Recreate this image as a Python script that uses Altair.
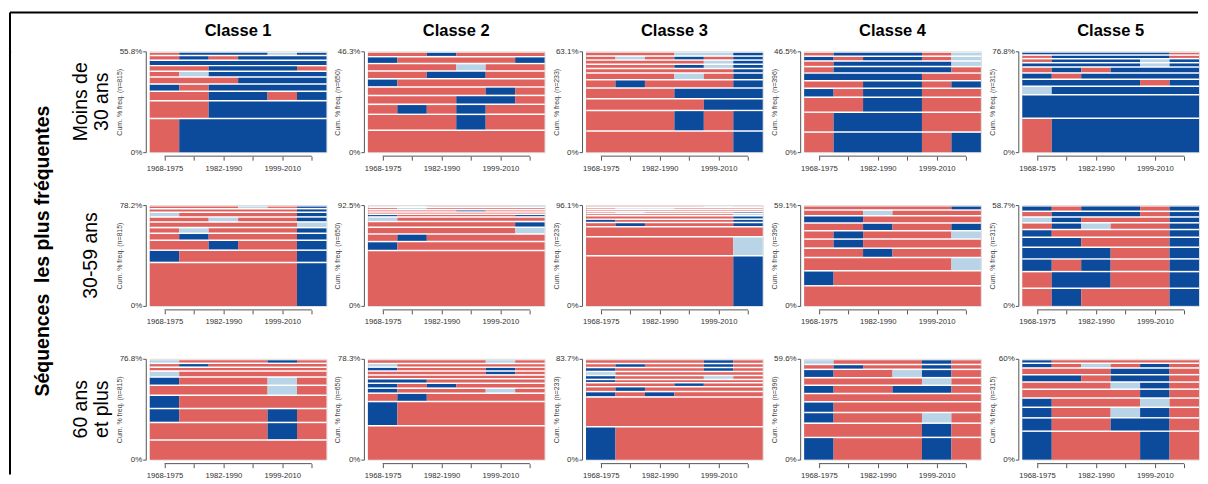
import altair as alt
import pandas as pd

FONT = "Liberation Sans"

# states: R = red, B = dark blue, L = light blue
STATES = ["R", "B", "L"]
STATE_COLORS = ["#E0625F", "#0C4A9C", "#B9D3E7"]
TICK_LABELS = ["1968-1975", "", "1982-1990", "", "1999-2010", ""]
CLASSES = ["Classe 1", "Classe 2", "Classe 3", "Classe 4", "Classe 5"]
N_OBS = [815, 650, 233, 396, 315]
AGE_GROUPS = [["Moins de", "30 ans"], ["30-59 ans"], ["60 ans", "et plus"]]
TOP_PCT = [
    [55.8, 46.3, 63.1, 46.5, 76.8],
    [78.2, 92.5, 96.1, 59.1, 58.7],
    [76.8, 78.3, 83.7, 59.6, 60],
]

# sequences listed from the bottom (most frequent) upward, with their % frequency
SEQ_R1_C1 = ["RBBBBB", "RRBBBB", "RRBBRB", "BRBBBB", "RRRBBB", "RLBBBB", "RRBBBR", "BBBBBB", "RBRBBB", "RBBBLB"]
FREQ_R1_C1 = [19.0, 9.9, 5.2, 4.0, 3.9, 3.2, 3.1, 3.0, 2.6, 1.9]
SEQ_R1_C2 = ["RRRRRR", "RRRBRR", "RBRBRR", "RRRBBR", "RRRRBR", "BRRRRR", "RRBBRR", "RRRLRR", "BRRRRB", "RRBRRR"]
FREQ_R1_C2 = [10.4, 7.3, 4.6, 4.1, 3.9, 3.7, 3.6, 3.4, 3.2, 2.1]
SEQ_R1_C3 = ["RRRRRB", "RRRBRB", "RRRRBB", "RRRBBB", "RBRRRB", "RRRLRB", "RRRRRB", "RRRBLB", "RRRRLB", "RLRBRB", "RRRLLB"]
FREQ_R1_C3 = [13.7, 12.9, 7.3, 6.7, 5.2, 4.2, 2.8, 2.7, 2.6, 2.5, 2.5]
SEQ_R1_C4 = ["RBBBRB", "RBBBRR", "RRBBRR", "BRBBRR", "RRBBRB", "BBBBRR", "RBBBBR", "RBBBBL", "BRBBRL", "RBBBRL"]
FREQ_R1_C4 = [9.6, 9.2, 6.9, 4.1, 3.5, 3.5, 3.0, 2.6, 2.2, 1.9]
SEQ_R1_C5 = ["RBBBBB", "BBBBBB", "LBBBBB", "BBBBRB", "BRBBBB", "RBRBBB", "BBBBLB", "RBBBLB", "RBBBBR", "BBBBBR"]
FREQ_R1_C5 = [26.4, 17.9, 6.5, 5.3, 4.8, 4.5, 3.3, 3.1, 2.7, 2.3]

SEQ_R2_C1 = ["RRRRRB", "BRRRRB", "RRBRRB", "RBRRRB", "RLRRRB", "RRRRRL", "RRLRRB", "LRRRRB", "RRRRRB", "RRRLRB"]
FREQ_R2_C1 = [34.3, 9.5, 7.7, 5.4, 4.4, 4.4, 3.9, 3.6, 2.8, 2.2]
SEQ_R2_C2 = ["RRRRRR", "BRRRRR", "RBRRRR", "RRRRRL", "RRRRRB", "LRRRRR", "BRRRRB", "RRRRRR", "RRRBRR", "RLRRRR", "RLRRRB"]
FREQ_R2_C2 = [51.5, 8.2, 7.0, 6.1, 5.2, 4.3, 2.4, 2.1, 2.1, 2.1, 1.5]
SEQ_R2_C3 = ["RRRRRB", "RRRRRL", "RRRRRR", "RBRRRB", "BRRRRB", "RRRRRB", "RRRRRL", "RLRRRB", "RRRRRR", "RLLRRR", "RRRRLR"]
FREQ_R2_C3 = [48.5, 18.1, 9.5, 4.1, 3.2, 3.2, 2.2, 1.9, 1.9, 1.9, 1.6]
SEQ_R2_C4 = ["RRRRRR", "BRRRRR", "RRRRRL", "RRBRRR", "RBRRRR", "RBRRRL", "RRBRRB", "BBRRRR", "RRLRRR", "RRRRRB"]
FREQ_R2_C4 = [12.2, 8.8, 7.8, 5.5, 5.3, 4.9, 4.5, 4.3, 3.3, 2.5]
SEQ_R2_C5 = ["RBRRRB", "RBBRRB", "BRBRRB", "BBBRRB", "BBRRRB", "BRRRRB", "RBLRRB", "LBRRRB", "RBBBRB", "BRBBRB"]
FREQ_R2_C5 = [10.7, 9.7, 7.4, 6.8, 5.8, 4.5, 3.9, 3.4, 3.3, 3.2]

SEQ_R3_C1 = ["RRRRRR", "RRRRBR", "BRRRBR", "BRRRRR", "RRRRLR", "BRRRLR", "LRRRRR", "RRRRRR", "RBRRRR", "LRRRBR"]
FREQ_R3_C1 = [15.6, 13.3, 10.6, 10.1, 7.6, 6.3, 4.5, 3.0, 2.9, 2.9]
SEQ_R3_C2 = ["RRRRRR", "BRRRRR", "RBRRRR", "BRRRLR", "BRBRRR", "BBRRRR", "RRRRRR", "RRRRBR", "BRRRBR", "LRRRRR", "RRRRLR"]
FREQ_R3_C2 = [26.9, 18.8, 6.5, 3.9, 3.8, 3.4, 3.1, 3.0, 3.0, 2.9, 3.0]
SEQ_R3_C3 = ["BRRRRR", "RRRRRR", "BRBRRR", "RBRRRR", "RRRBRR", "BRRRRR", "BRRRLR", "LRRRRR", "BRRRBR", "RBRRBR", "RRRRBR"]
FREQ_R3_C3 = [28.0, 24.7, 4.4, 4.1, 3.3, 2.7, 3.3, 3.3, 3.3, 3.3, 3.3]
SEQ_R3_C4 = ["BRRRBR", "RRRRBR", "BRRRLR", "BRRRRR", "RRRRRR", "BRRBBR", "RRRRLR", "BRRLBR", "RBRRBR", "LRRRBR"]
FREQ_R3_C4 = [13.6, 8.4, 6.3, 6.3, 4.9, 4.9, 4.5, 4.9, 2.9, 2.9]
SEQ_R3_C5 = ["BRRRBR", "BRRBBR", "BRRLBR", "BRRRLR", "RRRRBR", "RRRLBR", "BBRBBR", "RRRBBR", "BRLRBR", "BRRRRR"]
FREQ_R3_C5 = [17.4, 7.9, 6.3, 5.5, 5.3, 4.2, 4.4, 4.0, 2.8, 2.2]

PANELS = [
    [(SEQ_R1_C1, FREQ_R1_C1), (SEQ_R1_C2, FREQ_R1_C2), (SEQ_R1_C3, FREQ_R1_C3), (SEQ_R1_C4, FREQ_R1_C4), (SEQ_R1_C5, FREQ_R1_C5)],
    [(SEQ_R2_C1, FREQ_R2_C1), (SEQ_R2_C2, FREQ_R2_C2), (SEQ_R2_C3, FREQ_R2_C3), (SEQ_R2_C4, FREQ_R2_C4), (SEQ_R2_C5, FREQ_R2_C5)],
    [(SEQ_R3_C1, FREQ_R3_C1), (SEQ_R3_C2, FREQ_R3_C2), (SEQ_R3_C3, FREQ_R3_C3), (SEQ_R3_C4, FREQ_R3_C4), (SEQ_R3_C5, FREQ_R3_C5)],
]

W, H = 177, 101
GAP = 1.5
AXIS_GRAY = "#555555"
LABEL_GRAY = "#333333"


def seq_table(seqs, freqs, top):
    scale = top / sum(freqs)
    rows = []
    cum = 0.0
    for s, f in zip(seqs, freqs):
        f = f * scale
        start = 0
        for i in range(1, len(s) + 1):
            if i == len(s) or s[i] != s[start]:
                rows.append({"x0": start, "x1": i, "y0": cum, "y1": cum + f, "state": s[start]})
                start = i
        cum += f
    return pd.DataFrame(rows)


def panel(r, c):
    seqs, freqs = PANELS[r][c]
    top = TOP_PCT[r][c]
    df = seq_table(seqs, freqs, top)
    top_lab = f"{top:g}%"
    xscale = alt.Scale(domain=[0, 6], nice=False, zero=False)
    xaxis = alt.Axis(
        values=[0.5, 1.5, 2.5, 3.5, 4.5, 5.5],
        labelExpr=f"{TICK_LABELS}[round(datum.value - 0.5)]",
        title=None, domain=False, tickSize=4, tickColor=AXIS_GRAY,
        offset=4, labelFontSize=7.7, labelColor=LABEL_GRAY, labelFont=FONT,
        labelPadding=4, grid=False, labelFlush=False, labelOverlap=False,
    )
    rects = alt.Chart(df).mark_rect(y2Offset=GAP).encode(
        x=alt.X("x0:Q", scale=xscale, axis=xaxis),
        x2="x1:Q",
        y=alt.Y(
            "y0:Q",
            scale=alt.Scale(domain=[0, top], nice=False, zero=True),
            axis=alt.Axis(
                values=[0, top],
                labelExpr=f"datum.value == 0 ? '0%' : '{top_lab}'",
                title=f"Cum. % freq. (n={N_OBS[c]})",
                titleFontSize=7, titleFontWeight="normal", titleColor="#444444", titleFont=FONT,
                titleX=-24, titleBaseline="alphabetic",
                offset=4, tickSize=3, domainColor=AXIS_GRAY, tickColor=AXIS_GRAY,
                labelFontSize=8, labelColor=LABEL_GRAY, labelFont=FONT, labelPadding=1,
                grid=False, labelFlush=False, labelOverlap=False,
            ),
        ),
        y2="y1:Q",
        color=alt.Color("state:N", scale=alt.Scale(domain=STATES, range=STATE_COLORS), legend=None),
    )
    xline = alt.Chart(pd.DataFrame({"x0": [0.5], "x1": [5.5]})).mark_rule(
        color=AXIS_GRAY, strokeWidth=1
    ).encode(
        x=alt.X("x0:Q", scale=xscale, axis=xaxis),
        x2="x1:Q",
        y=alt.value(H + 4),
    )
    layers = [rects, xline]
    if c == 0:
        label = AGE_GROUPS[r]
        xpos = -69 if len(label) > 1 else -59
        row_label = alt.Chart(pd.DataFrame({"k": [0]})).mark_text(
            text=label, angle=270, align="center", baseline="middle",
            fontSize=19.5, font=FONT, lineHeight=21, color="black",
        ).encode(x=alt.value(xpos), y=alt.value(H / 2))
        layers.append(row_label)
    props = dict(width=W, height=H)
    if r == 0:
        props["title"] = alt.TitleParams(
            CLASSES[c], fontSize=16.5, fontWeight="bold", font=FONT, offset=8,
            anchor="middle", frame="group", color="black",
        )
    return alt.layer(*layers).properties(**props)


grid = alt.concat(
    *[panel(r, c) for r in range(3) for c in range(5)],
    columns=5, spacing={"row": 53, "column": 41.5}, bounds="flush",
).properties(
    title=alt.TitleParams(
        "Séquences\u00a0 les plus fréquentes", orient="left", anchor="middle", fontSize=19.5,
        fontWeight="bold", font=FONT, offset=17, color="black",
    )
)

frame_df = pd.DataFrame({"k": [0]})
frame_top = alt.Chart(frame_df).mark_rule(color="black", strokeWidth=2).encode(
    x=alt.value(0), x2=alt.value(1190), y=alt.value(-39)
)
frame_left = alt.Chart(frame_df).mark_rule(color="black", strokeWidth=2).encode(
    x=alt.value(0), y=alt.value(-39), y2=alt.value(424)
)
frame = alt.layer(frame_top, frame_left).properties(width=1, height=1)

chart = alt.hconcat(frame, grid, spacing=139, bounds="flush").properties(
    padding={"left": 0, "top": 2, "right": 0, "bottom": 0}
).configure_view(strokeWidth=0).configure(background="white")

chart.save("out.html", embed_options={"renderer": "svg", "actions": False})
